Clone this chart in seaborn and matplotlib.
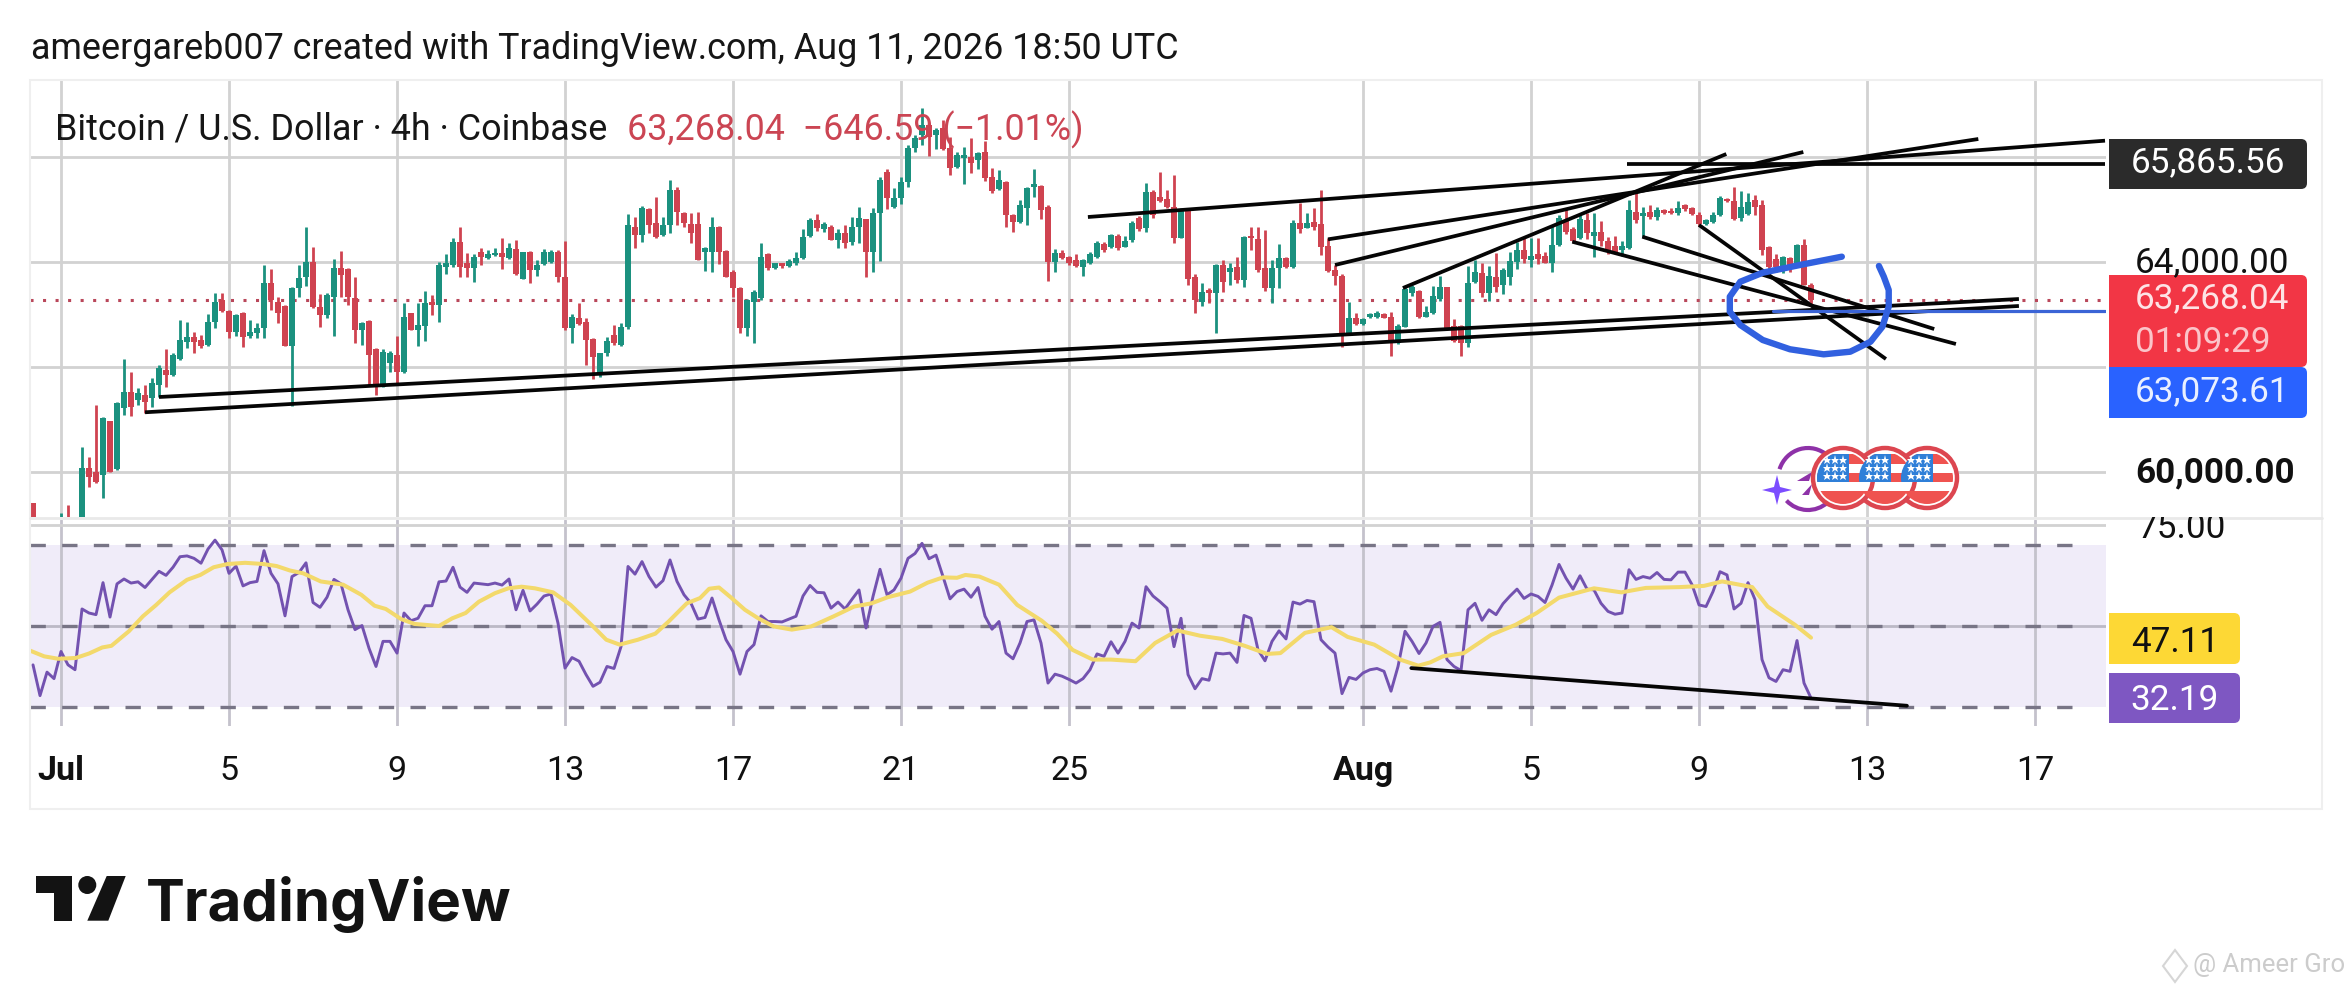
import numpy as np
import pandas as pd
import matplotlib
matplotlib.use('Agg')
import matplotlib.pyplot as plt
from matplotlib.patches import Rectangle, Circle, FancyBboxPatch, Polygon, Arc
import seaborn as sns

sns.set_theme(style='white')
plt.rcParams['font.family'] = ['Roboto', 'DejaVu Sans']

# 4h candles, first one is four bars before Jul 1 00:00, rows of ten
FIRST_BAR = -4
highs = [
    59415, 59000, 59050, 59050, 59210, 59370, 59100, 60480, 60290, 61275,
    61050, 60980, 61340, 62145, 61910, 61590, 61655, 61785, 62035, 62335,
    62260, 62895, 62865, 62670, 62610, 63000, 63405, 63405, 63085, 63000,
    63040, 62895, 62830, 63940, 63865, 63325, 63180, 63515, 63940, 64675,
    64290, 63390, 63405, 64050, 64210, 63880, 63720, 62865, 62895, 62355,
    62335, 62305, 62595, 63225, 63035, 63225, 63445, 63370, 63995, 64150,
    64450, 64675, 64165, 64145, 64260, 64230, 64260, 64465, 64355, 64420,
    64195, 64210, 64040, 64245, 64230, 64230, 64400, 63000, 63225, 62925,
    62560, 62270, 62575, 62800, 62845, 64905, 64850, 65065, 65020, 65245,
    64865, 65560, 65420, 64960, 64925, 64945, 64290, 64865, 64685, 64230,
    63845, 63515, 63290, 63465, 64355, 64175, 63985, 63985, 64050, 64195,
    64620, 64830, 64905, 64770, 64705, 64620, 64705, 64865, 65040, 64820,
    65020, 65625, 65770, 65405, 65625, 66230, 66420, 66925, 66640, 66545,
    66705, 66385, 66100, 66185, 66370, 66100, 66305, 65785, 65750, 65540,
    64905, 65180, 65420, 65770, 65465, 65085, 64240, 64230, 64115, 64150,
    64050, 64195, 64400, 64375, 64535, 64535, 64500, 64785, 64880, 65510,
    65370, 65710, 65370, 65655, 65020, 65005, 63770, 63595, 63500, 63955,
    64040, 63975, 64100, 64500, 64660, 64660, 64610, 64040, 64340, 64100,
    64800, 65130, 64925, 65020, 65370, 64450, 63940, 63765, 63230, 63020,
    62925, 63035, 63070, 63035, 63055, 62820, 63515, 63560, 63465, 63160,
    63540, 63735, 63515, 62905, 62800, 63925, 64040, 63975, 63925, 64175,
    63880, 64195, 64385, 64480, 64450, 64465, 64195, 64705, 64895, 65005,
    64670, 64940, 64925, 64925, 64785, 64480, 64495, 64405, 65180, 65340,
    65040, 65085, 65040, 65005, 65020, 65160, 65105, 65040, 64960, 64810,
    64960, 65255, 65210, 65420, 65360, 65305, 65275, 65180, 64305, 64150,
    64115, 64090, 64340, 64430, 63595,
]
lows = [
    58640, 58600, 58600, 58600, 58700, 58800, 58600, 58800, 59720, 59785,
    59510, 60005, 60035, 61085, 61070, 61275, 61115, 61245, 61435, 61625,
    61835, 62130, 62355, 62270, 62355, 62400, 62735, 63055, 62545, 62595,
    62385, 62545, 62545, 62560, 63085, 62830, 62405, 61255, 63340, 63540,
    63115, 62755, 62925, 62595, 63340, 63180, 62450, 62420, 61655, 61465,
    61625, 61910, 61655, 61890, 62705, 62405, 62500, 62990, 62865, 63770,
    63910, 63705, 63705, 63625, 63940, 64050, 64115, 63865, 64055, 63750,
    63670, 63595, 63740, 63940, 63975, 63625, 62705, 62450, 62800, 62035,
    61765, 61815, 62210, 62420, 62405, 62715, 64260, 64385, 64545, 64450,
    64500, 64545, 64705, 64660, 64355, 64040, 63830, 63815, 63955, 63705,
    63340, 62640, 62590, 62465, 63275, 63845, 63860, 63880, 63910, 63940,
    64050, 64480, 64595, 64565, 64420, 64260, 64260, 64325, 64370, 63705,
    63815, 64025, 65005, 65020, 65105, 65435, 66100, 66230, 66020, 66145,
    66135, 65655, 65795, 65485, 65690, 65770, 65550, 65320, 65370, 64675,
    64575, 64750, 64705, 65245, 64810, 63645, 63815, 64050, 63940, 63910,
    63740, 63960, 64070, 64195, 64260, 64230, 64280, 64375, 64595, 64575,
    64830, 65150, 65020, 64355, 64450, 63560, 63020, 63160, 63210, 62655,
    63435, 63560, 63595, 63530, 64230, 63815, 63455, 63210, 63500, 63880,
    63880, 64545, 64640, 64610, 64135, 63815, 63560, 62385, 62610, 62800,
    62800, 62925, 62925, 62925, 62215, 62435, 62755, 63350, 62925, 62945,
    63010, 63265, 62715, 62480, 62215, 62375, 63605, 63340, 63265, 63435,
    63390, 63560, 63860, 63975, 63900, 63955, 63975, 63815, 64305, 64535,
    64385, 64430, 64430, 64100, 64305, 64150, 64165, 64115, 64240, 64750,
    64480, 64810, 64800, 64915, 64915, 64895, 64975, 64895, 64685, 64705,
    64750, 64875, 65140, 64800, 64785, 64895, 64895, 64135, 63735, 63815,
    63785, 63815, 63975, 63560, 63180,
]
opens = [
    59415, 58650, 58950, 58700, 58800, 59100, 58700, 58900, 60070, 60005,
    59940, 60975, 60050, 61210, 61530, 61370, 61465, 61400, 61655, 61940,
    61845, 62145, 62480, 62575, 62515, 62420, 62865, 63275, 63070, 62670,
    63020, 62590, 62640, 62735, 63595, 63245, 63165, 62400, 63500, 63720,
    64005, 63135, 62990, 63340, 63880, 63860, 63305, 62705, 62880, 62335,
    61625, 62070, 62230, 61910, 63020, 62705, 62780, 63245, 63180, 63910,
    63940, 64375, 63985, 63880, 64195, 64070, 64125, 64175, 64070, 64245,
    63670, 64195, 63845, 63960, 64005, 64195, 63720, 62735, 62925, 62865,
    62535, 61845, 62270, 62610, 62420, 62755, 64675, 64515, 65005, 64735,
    64515, 64705, 65370, 64925, 64725, 64725, 64195, 64195, 64675, 64210,
    63815, 63500, 62735, 63245, 63305, 64150, 63880, 63985, 63925, 63985,
    64070, 64495, 64800, 64630, 64675, 64420, 64545, 64385, 64675, 64810,
    64195, 64940, 65720, 65055, 65210, 65530, 66165, 66420, 66610, 66420,
    66545, 66165, 65805, 65975, 65995, 65940, 66100, 65625, 65385, 65530,
    64895, 64760, 65020, 65420, 65455, 65040, 64005, 64175, 64090, 64040,
    63910, 63985, 64100, 64340, 64290, 64500, 64290, 64420, 64830, 64640,
    65340, 65245, 65195, 65055, 64465, 64990, 63705, 63245, 63465, 63405,
    63940, 63815, 63910, 63655, 64500, 64430, 63880, 63500, 63880, 64070,
    63910, 64735, 64655, 64770, 64725, 64305, 63845, 63740, 62640, 62925,
    62820, 62945, 62960, 63010, 62960, 62465, 62755, 63405, 63455, 62960,
    63020, 63290, 63515, 62780, 62780, 62450, 63625, 63795, 63415, 63720,
    63560, 63720, 64005, 64230, 64040, 64150, 64115, 63985, 64325, 64800,
    64620, 64450, 64800, 64495, 64575, 64405, 64305, 64230, 64260, 64960,
    64875, 64960, 64865, 64990, 64975, 64925, 65085, 65020, 64895, 64725,
    64770, 64890, 65195, 65170, 64830, 64915, 65180, 65085, 64280, 64050,
    63845, 64070, 63985, 64325, 63560,
]
closes = [
    58770, 58900, 58700, 58950, 59110, 58900, 59000, 60070, 59910, 59815,
    61020, 60005, 61305, 61530, 61245, 61495, 61340, 61690, 61975, 61845,
    62230, 62515, 62575, 62480, 62400, 62865, 63245, 63070, 62670, 62990,
    62575, 62670, 62735, 63595, 63275, 63020, 62405, 63500, 63690, 64005,
    63135, 62990, 63370, 63880, 63750, 63340, 62705, 62830, 62230, 61655,
    62290, 62260, 61910, 62960, 62705, 62800, 63210, 63180, 63940, 63975,
    64385, 63910, 63880, 64100, 64100, 64145, 64175, 64100, 64260, 63770,
    64185, 63845, 63940, 64195, 64195, 63720, 62735, 62960, 62820, 62515,
    62195, 62260, 62500, 62450, 62770, 64705, 64515, 65020, 64705, 64480,
    64705, 65370, 64960, 64735, 64545, 64040, 64275, 64675, 64195, 63720,
    63500, 62735, 63275, 63435, 64100, 63880, 63975, 63925, 64025, 64070,
    64480, 64800, 64640, 64715, 64420, 64545, 64355, 64675, 64830, 64195,
    64925, 65560, 65210, 65210, 65530, 66165, 66355, 66610, 66385, 66515,
    66145, 65795, 66040, 66040, 65890, 66080, 65595, 65360, 65560, 64895,
    64770, 65085, 65405, 65485, 64990, 64005, 64175, 64070, 63975, 63925,
    64040, 64145, 64370, 64230, 64515, 64275, 64405, 64750, 64620, 65340,
    64895, 65160, 65040, 64450, 64990, 63670, 63275, 63435, 63405, 63940,
    63625, 63880, 63655, 64480, 64450, 63845, 63500, 63880, 64070, 63910,
    64735, 64620, 64735, 64675, 64290, 63830, 63735, 62610, 62925, 62820,
    62905, 63010, 63020, 62925, 62450, 62780, 63480, 63515, 62945, 63055,
    63350, 63530, 62735, 62500, 62465, 63605, 63815, 63415, 63735, 63530,
    63845, 64025, 64230, 64050, 64115, 64050, 63985, 64325, 64830, 64575,
    64405, 64810, 64545, 64575, 64405, 64230, 64195, 64305, 64990, 64800,
    64940, 64865, 64990, 64940, 64925, 65020, 65005, 64915, 64725, 64800,
    64895, 65210, 65155, 64810, 65055, 65150, 65040, 64230, 63910, 63910,
    64090, 63910, 64325, 63560, 63268.04,
]

# rsi for the same bars
rsi = [
    40.4, 32.8, 38.6, 37.0, 43.7, 40.4, 39.2, 54.2, 53.2, 52.8,
    60.7, 52.2, 60.4, 61.6, 60.6, 60.9, 59.5, 61.5, 63.5, 62.5,
    64.5, 67.1, 67.3, 66.7, 65.5, 69.0, 71.2, 68.8, 63.0, 64.8,
    59.9, 60.7, 61.0, 68.6, 63.0, 60.4, 52.5, 62.2, 63.2, 65.6,
    55.8, 54.6, 57.1, 61.5, 60.4, 54.0, 49.1, 50.1, 44.5, 40.0,
    46.2, 46.2, 43.3, 53.2, 51.3, 51.9, 55.0, 55.0, 60.9, 61.1,
    64.5, 59.6, 58.3, 60.6, 60.4, 60.2, 60.6, 60.1, 61.6, 54.0,
    58.8, 53.7, 55.4, 57.4, 57.9, 50.7, 39.6, 42.2, 41.3, 38.0,
    35.1, 36.1, 40.0, 39.5, 44.9, 64.7, 62.8, 65.9, 62.2, 59.6,
    61.2, 66.3, 61.0, 57.7, 55.6, 51.7, 52.1, 56.9, 51.5, 46.6,
    43.7, 38.1, 43.7, 45.4, 52.5, 51.1, 51.1, 51.0, 51.7, 52.4,
    57.4, 60.0, 58.3, 58.2, 54.4, 55.9, 54.2, 56.6, 58.9, 49.5,
    57.3, 64.0, 57.7, 58.9, 61.8, 66.7, 67.9, 70.4, 66.6, 67.5,
    62.2, 56.7, 58.5, 59.1, 57.1, 59.5, 52.4, 49.2, 51.1, 43.3,
    41.9, 45.8, 51.1, 51.5, 45.8, 35.9, 38.1, 37.6, 36.8, 35.9,
    37.0, 39.2, 43.1, 42.5, 46.1, 43.3, 46.2, 50.7, 49.5, 59.7,
    57.4, 56.0, 54.4, 44.9, 51.9, 38.0, 34.5, 37.0, 36.6, 43.3,
    43.1, 43.3, 41.0, 52.6, 51.9, 44.1, 41.4, 46.2, 48.8, 46.8,
    55.9, 55.4, 56.3, 56.0, 46.6, 44.8, 43.3, 33.3, 37.3, 36.8,
    38.4, 39.2, 39.5, 38.8, 33.9, 40.0, 48.7, 46.2, 43.2, 45.8,
    49.9, 50.9, 41.7, 40.0, 39.0, 54.0, 55.6, 51.4, 54.0, 52.8,
    55.5, 57.4, 59.1, 56.8, 57.9, 57.3, 55.8, 60.1, 65.2, 61.8,
    59.1, 62.4, 59.1, 58.9, 55.6, 53.6, 52.9, 53.2, 63.9, 61.5,
    62.2, 61.8, 63.2, 61.5, 61.4, 63.3, 63.3, 60.2, 55.2, 54.8,
    58.5, 63.4, 62.6, 54.2, 55.6, 60.7, 56.5, 41.7, 37.2, 36.3,
    39.2, 38.8, 46.4, 35.9, 32.19,
]

ma_bars = [
    -4.4, -2.4, -0.4, 2.1, 4.0, 5.9, 7.2, 9.7, 11.7, 13.6, 15.5, 18.0, 19.9, 21.8, 23.8,
    26.3, 28.9, 30.8, 32.7, 34.6, 37.1, 40.3, 42.9, 44.8, 46.4, 48.6, 50.5, 54.0, 55.9,
    57.8, 59.7, 62.0, 63.9, 65.8, 67.7, 70.3, 72.8, 76.0, 77.9, 79.8, 82.4, 84.9, 86.8,
    89.4, 91.3, 92.6, 94.0, 95.8, 97.7, 99.6, 101.8, 104.4, 107.2, 110.4, 113.3, 115.8,
    118.1, 121.3, 123.8, 126.0, 128.0, 129.2, 131.2, 134.0, 136.6, 140.1, 142.3, 144.5,
    147.4, 150.0, 153.5, 156.3, 159.5, 162.7, 165.9, 169.1, 172.3, 174.2, 177.7, 181.5,
    183.8, 187.6, 191.3, 193.9, 195.6, 197.4, 200.4, 204.3, 207.8, 210.8, 214.0, 216.4,
    219.0, 222.9, 226.4, 231.2, 234.7, 237.3, 241.6, 243.8, 247.7, 250,
]
ma_vals = [
    43.9, 42.5, 41.9, 42.1, 43.2, 44.7, 45.1, 48.7, 52.4, 55.2, 58.3, 61.4, 62.6, 64.5, 65.3,
    65.6, 65.3, 64.8, 63.7, 63.0, 61.0, 60.2, 57.7, 55.0, 54.2, 51.7, 50.5, 50.0, 51.9,
    53.2, 56.0, 58.1, 59.3, 59.7, 59.3, 58.3, 55.2, 49.9, 46.6, 45.4, 46.6, 48.1, 51.1,
    55.6, 56.9, 59.2, 59.5, 56.9, 54.0, 51.9, 49.9, 49.1, 49.9, 52.4, 54.8, 55.6,
    57.1, 58.5, 60.7, 62.0, 61.9, 62.6, 62.2, 60.2, 55.2, 51.3, 48.1, 44.1,
    41.7, 41.7, 41.3, 45.8, 48.9, 47.6, 46.8, 45.1, 43.1, 43.3, 48.3, 49.7,
    47.3, 45.4, 41.7, 40.2, 41.0, 42.5, 43.3, 47.8, 50.3, 53.2, 57.0, 58.1,
    59.3, 58.3, 59.4, 59.6, 59.9, 61.0, 59.6, 54.8, 50.3, 47.11,
]

last_price = 63268.04
high_line = 65865.56
blue_line = 63073.61
day_bars = [0, 24, 48, 72, 96, 120, 144, 186, 210, 234, 258, 282]
day_labels = ['Jul', '5', '9', '13', '17', '21', '25', 'Aug', '5', '9', '13', '17']
price_grid = [60000, 62000, 64000, 66000]
rsi_levels = [30, 50, 70]

# hand drawn lines on the chart: (bar, price) to (bar, price)
black_lines = [
    (14.0, 61428, 279.7, 63295), (12.0, 61137, 279.7, 63162),
    (146.7, 64857, 292.0, 66311), (181.0, 64432, 273.9, 66343),
    (182.0, 63943, 248.9, 66095), (191.7, 63504, 237.9, 66057),
    (223.7, high_line, 292.0, high_line),
    (215.9, 64386, 270.7, 62438), (225.9, 64482, 267.6, 62723),
    (234.0, 64705, 260.7, 62152),
]
circle_bars = [254.4, 248.9, 243.1, 239.9, 238.4, 238.4, 239.9, 243.1, 247.0, 251.8,
               255.6, 258.5, 260.2, 261.1, 261.1, 260.4, 259.7]
circle_prices = [64101, 63956, 63796, 63624, 63339, 63053, 62800, 62514, 62337, 62241,
                 62291, 62481, 62767, 63148, 63466, 63720, 63924]
rsi_trend_bars = [192.9, 263.7]
rsi_trend_vals = [39.6, 30.3]

candles = pd.DataFrame({'open': opens, 'high': highs, 'low': lows, 'close': closes, 'rsi': rsi})
candles['bar'] = np.arange(len(candles)) + FIRST_BAR
ma_df = pd.DataFrame({'bar': ma_bars, 'ma': ma_vals})

GREEN = '#1b917f'
RED = '#cf4350'
GRID = '#d2d2d2'
W, H = 2352, 990

fig = plt.figure(figsize=(W / 100, H / 100), dpi=100, facecolor='white')


def pane(x0, y0, x1, y1):
    return fig.add_axes([x0 / W, 1 - y1 / H, (x1 - x0) / W, (y1 - y0) / H])


# price pane
ax = pane(30, 80, 2106, 517)
ax.set_xlim(-4.43, 292.14)
ax.set_ylim(59142, 67467)
for b in day_bars:
    ax.axvline(b, color=GRID, lw=2, zorder=1)
for p in price_grid:
    ax.axhline(p, color=GRID, lw=2, zorder=1)
ax.axhline(last_price, color='#b9475a', lw=2.2, dashes=(1, 3.1), zorder=1.5)

up = candles[candles.close >= candles.open]
down = candles[candles.close < candles.open]
for part, col in ((up, GREEN), (down, RED)):
    ax.vlines(part.bar, part.low, part.high, color=col, lw=2.0, zorder=2)
    ax.bar(part.bar, (part.close - part.open).abs(), bottom=part[['open', 'close']].min(axis=1),
           width=0.74, color=col, linewidth=0, zorder=2)

for x0, y0, x1, y1 in black_lines:
    ax.plot([x0, x1], [y0, y1], color='#050505', lw=2.7, solid_capstyle='butt', zorder=3)
ax.plot([244.6, 292], [blue_line, blue_line], color='#3b64d6', lw=2.3, zorder=3.5)
ax.plot(circle_bars, circle_prices, color='#3160df', lw=4.6, solid_capstyle='round',
        solid_joinstyle='round', zorder=4)
ax.set_xticks([])
ax.set_yticks([])
sns.despine(ax=ax, left=True, bottom=True)

# rsi pane
ax2 = pane(30, 520, 2106, 726)
ax2.set_xlim(-4.43, 292.14)
ax2.set_ylim(25.3, 76.17)
ax2.axhspan(rsi_levels[0], rsi_levels[-1], color='#f0ecf9', lw=0, zorder=0)
for b in day_bars:
    ax2.axvline(b, color='#c4c2cc', lw=2, zorder=1)
ax2.axhline(75, color=GRID, lw=2, zorder=1)
ax2.axhline(50, color='#bcb9c6', lw=2, zorder=1)
for lv in rsi_levels:
    ax2.axhline(lv, xmax=0.989, color='#787586', lw=2.4, dashes=(4.6, 4.9), zorder=1.5)
sns.lineplot(data=candles, x='bar', y='rsi', color='#7352b0', lw=2.1, ax=ax2, zorder=2, errorbar=None)
sns.lineplot(data=ma_df, x='bar', y='ma', color='#f3d96b', lw=2.9, ax=ax2, zorder=3, errorbar=None)
ax2.plot(rsi_trend_bars, rsi_trend_vals, color='#050505', lw=2.7, zorder=4)
ax2.set_xlabel('')
ax2.set_ylabel('')
ax2.set_yticks([])
ax2.set_xticks(day_bars, day_labels)
ax2.tick_params(axis='x', length=0, pad=21, labelsize=24.5, colors='#111111')
for lab in ax2.get_xticklabels():
    if lab.get_text() in ('Jul', 'Aug'):
        lab.set_fontweight('bold')
sns.despine(ax=ax2, left=True, bottom=True)

# everything around the panes, in picture pixels
ov = fig.add_axes([0, 0, 1, 1], facecolor='none', zorder=5)
ov.set_xlim(0, W)
ov.set_ylim(H, 0)
ov.axis('off')

ov.add_patch(Rectangle((30, 80), 2292, 729, fill=False, ec='#efefef', lw=1.5))
ov.plot([30, 2322], [518, 518], color='#e9e9e9', lw=2)

ov.text(31, 49, 'ameergareb007 created with TradingView.com, Aug 11, 2026 18:50 UTC',
        fontsize=25.8, color='#161616', va='center')
ov.text(55, 130, 'Bitcoin / U.S. Dollar · 4h · Coinbase', fontsize=25.8, color='#161616', va='center')
ov.text(627, 130, '63,268.04  −646.59 (−1.01%)', fontsize=25.8, color='#cb4553', va='center')


def tag(x0, y0, x1, y1, col):
    ov.add_patch(FancyBboxPatch((x0, y0), x1 - x0, y1 - y0, boxstyle='round,pad=0,rounding_size=6',
                                fc=col, ec='none'))
    ov.add_patch(Rectangle((x0, y0), 12, y1 - y0, fc=col, ec='none'))


tag(2109, 139, 2307, 189, '#2b2b2b')
ov.text(2208, 163, f'{high_line:,.2f}', fontsize=25.3, color='white', ha='center', va='center')
ov.text(2135, 263, '64,000.00', fontsize=25.3, color='#111111', va='center')
tag(2109, 275, 2307, 367, '#f23645')
ov.text(2135, 299, f'{last_price:,.2f}', fontsize=25.3, color='#fde3e5', va='center')
ov.text(2135, 342, '01:09:29', fontsize=25.3, color='#fbc4c9', va='center')
tag(2109, 367, 2307, 418, '#2962ff')
ov.text(2135, 392, f'{blue_line:,.2f}', fontsize=25.3, color='#eaf0ff', va='center')
ov.text(2135, 473, '60,000.00', fontsize=25.3, color='#111111', fontweight='bold', va='center')
ov.text(2138, 529, '75.00', fontsize=25.3, color='#111111', va='center')
ov.add_patch(Rectangle((2120, 500), 190, 17, fc='white', ec='none', zorder=4))
tag(2109, 613, 2240, 664, '#fdd835')
ov.text(2175, 642, '47.11', fontsize=25.3, color='#111111', ha='center', va='center')
tag(2109, 673, 2240, 723, '#7e57c2')
ov.text(2175, 700, '32.19', fontsize=25.3, color='white', ha='center', va='center')


# event icons
def flag(cx, cy):
    ov.add_patch(Circle((cx, cy), 30, fc='white', ec='#dc4650', lw=3.2, zorder=6))
    clip = Circle((cx, cy), 26, transform=ov.transData)
    for top, bottom in ((-24, -14), (-5, 4), (13, 26)):
        s = Rectangle((cx - 27, cy + top), 54, bottom - top, fc='#ef5350', ec='none', zorder=6.1)
        ov.add_patch(s)
        s.set_clip_path(clip)
    b = Rectangle((cx - 27, cy - 24), 33, 28, fc='#2f7fd8', ec='none', zorder=6.2)
    ov.add_patch(b)
    b.set_clip_path(clip)
    for dx in (-16, -8, 0):
        for dy in (-18, -10, -2):
            ov.plot(cx + dx, cy + dy, marker='*', ms=6.5, color='white', mew=0, zorder=6.3)


ov.add_patch(Arc((1808, 479), 60, 62, theta1=-161, theta2=-50, ec='#8e32a8', lw=3))
ov.add_patch(Arc((1808, 479), 60, 62, theta1=50, theta2=135, ec='#8e32a8', lw=3))
ov.add_patch(Polygon([(1797, 481), (1812, 472), (1809, 481)], fc='#8e32a8', ec='none'))
ov.add_patch(Polygon([(1802, 495), (1812, 484), (1809, 495)], fc='#8e32a8', ec='none'))
ov.add_patch(Polygon([(1777, 475), (1780, 487), (1792, 490), (1780, 493), (1777, 505),
                      (1774, 493), (1762, 490), (1774, 487)], fc='#7c4dff', ec='none'))
for cx in (1927, 1885, 1843):
    flag(cx, 478)

# logo
ov.add_patch(Polygon([(36, 876), (71.7, 876), (71.7, 920.7), (54, 920.7), (54, 893.3), (36, 893.3)],
                     fc='#131313', ec='none'))
ov.add_patch(Circle((87.3, 885), 9, fc='#131313', ec='none'))
ov.add_patch(Polygon([(106.7, 876), (125.7, 876), (108.3, 920.7), (87.3, 920.7)], fc='#131313', ec='none'))
ov.text(146, 921, 'TradingView', family=['Inter', 'DejaVu Sans'], fontweight='bold', fontsize=42,
        color='#131313', va='baseline')

# watermark
ov.add_patch(Polygon([(2175, 950), (2187, 966), (2175, 982), (2163, 966)], fill=False, ec='#d6d6d6', lw=1.5))
ov.text(2193, 965, '@ Ameer Gro', fontsize=18.5, color='#cccccc', va='center')

fig.savefig('out.png', dpi=100, facecolor='white')
